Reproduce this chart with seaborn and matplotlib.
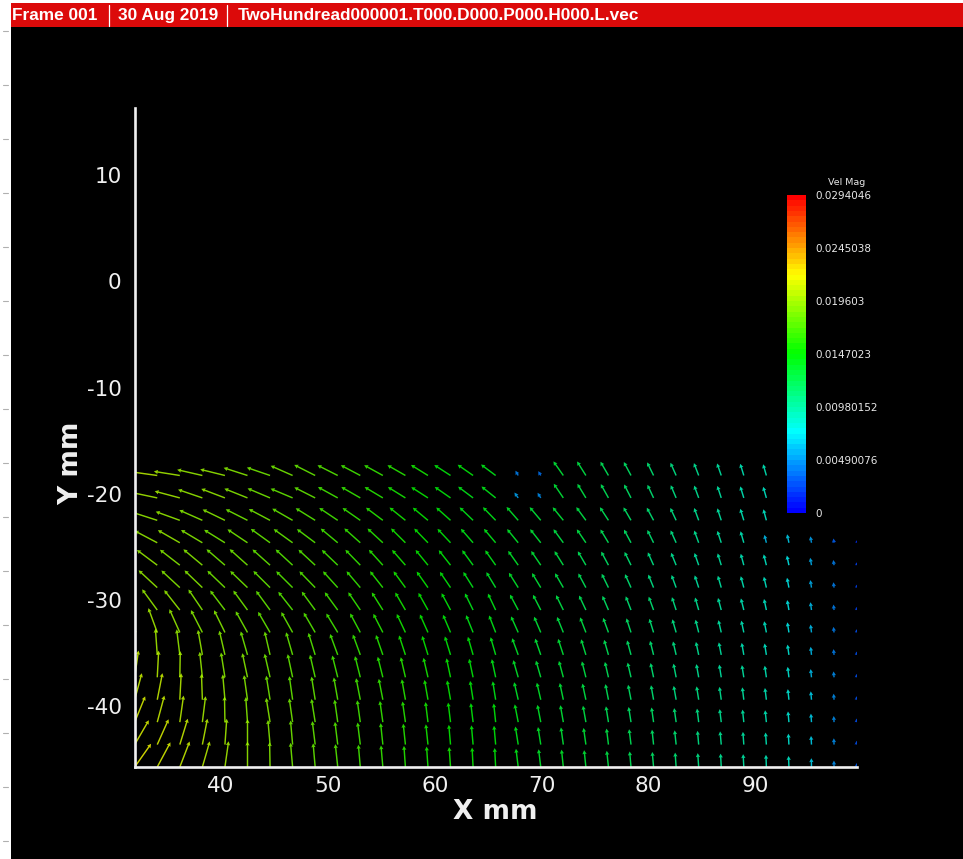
import numpy as np
import matplotlib
matplotlib.use("Agg")
import matplotlib.pyplot as plt
from matplotlib.colors import BoundaryNorm
from matplotlib.cm import ScalarMappable
from matplotlib.patches import Rectangle
from matplotlib.lines import Line2D
from matplotlib.ticker import MultipleLocator
import seaborn as sns

nan = np.nan

# PIV grid node positions (mm)
x_nodes = [31.93, 34.04, 36.15, 38.26, 40.37, 42.48, 44.59, 46.70, 48.81, 50.92,
           53.03, 55.14, 57.25, 59.36, 61.47, 63.58, 65.69, 67.80, 69.91, 72.02,
           74.13, 76.24, 78.35, 80.46, 82.57, 84.68, 86.79, 88.90, 91.01, 93.12,
           95.23, 97.34, 99.45]
y_nodes = [-18.27, -20.38, -22.49, -24.60, -26.71, -28.82, -30.93, -33.04,
           -35.15, -37.26, -39.37, -41.48, -43.59, -45.70]

# flow direction at each node, degrees counter-clockwise from +x (rows top to bottom)
flow_angle_deg = [
    [176,172,171,167,166,162,161,156,153, 153,152,151,150,148,147,145,143, 120,120,125,122,120,118,116,114, 111,109,107,106, nan,nan,nan,nan],
    [172,168,165,161,159,158,157,157,153, 151,150,149,148,147,145,143,141, 125,122,124,121,119,117,115,113, 110,108,107,106, nan,nan,nan,nan],
    [166,162,160,156,154,153,152,150,148, 146,145,143,141,140,138,136,134, 131,130,129,126,123,120,118,115, 110,108,107,105, nan,nan,nan,nan],
    [156,152,150,149,148,146,144,144,143, 140,138,137,135,134,133,131,130, 129,128,126,124,121,118,116,114, 110,108,106,104, 102,100,98,96],
    [148,143,142,140,139,138,138,137,137, 136,134,132,131,129,128,126,125, 125,124,122,120,118,116,114,112, 109,107,105,104, 102,100,98,96],
    [140,137,137,136,136,136,135,135,134, 132,130,128,126,125,124,122,121, 122,121,120,118,116,114,112,110, 108,106,105,103, 101,99,97,95],
    [128,126,128,124,127,126,126,128,126, 126,124,122,120,119,118,116,115, 118,117,116,115,113,111,110,108, 106,105,104,102, 100,98,96,95],
    [108,110,114,117,116,119,120,119,120, 121,118,117,115,114,113,112,111, 114,113,112,111,110,108,107,106, 104,103,102,101, 99,97,96,94],
    [90,94,97,100,103,106,103,106,107, 110,110,109,108,107,107,106,106, 110,109,108,107,106,105,104,103, 102,101,100,99, 98,96,95,94],
    [82,87,89,96,99,102,103,102,103, 104,104,104,103,103,102,102,102, 106,106,105,104,103,103,102,101, 100,99,99,98, 97,96,95,94],
    [75,79,87,92,95,98,99,98,99, 100,101,101,100,100,100,99,99, 103,103,102,102,101,101,100,100, 99,98,97,97, 96,95,94,93],
    [68,75,82,83,91,94,99,98,99, 98,98,98,98,97,97,97,96, 101,101,100,100,99,99,98,98, 97,97,96,96, 95,94,93,92],
    [60,66,73,79,86,90,95,95,97, 97,97,96,96,96,95,95,95, 99,99,98,98,97,97,96,96, 95,95,94,94, 93,93,92,91],
    [55,62,69,74,82,90,91,95,95, 96,95,95,94,94,94,93,93, 97,97,96,96,96,95,95,94, 94,93,93,92, 92,91,91,90],
]

# velocity magnitude at each node, in units of 1e-4 m/s
vel_mag_e4 = [
    [198,201,199,196,193,190,186,182,178, 172,167,162,157,152,147,143,139, 42,38,131,126,121,116,111,106, 101,97,93,89, nan,nan,nan,nan],
    [197,199,197,195,192,189,185,181,177, 171,166,161,156,151,146,142,138, 50,46,130,125,120,115,110,105, 100,96,92,88, nan,nan,nan,nan],
    [195,196,194,191,188,185,182,178,174, 169,164,160,155,150,146,142,139, 135,131,128,124,119,114,109,104, 100,96,92,87, nan,nan,nan,nan],
    [194,194,192,189,186,183,180,177,173, 168,163,159,154,150,145,141,138, 134,131,127,123,118,113,108,103, 99,95,91,62, 66,50,33,19],
    [194,193,191,188,185,182,179,176,173, 167,163,158,154,149,145,141,138, 133,130,126,122,117,112,107,102, 98,94,90,85, 75,57,40,22],
    [195,193,191,188,185,182,179,176,172, 167,162,158,153,149,144,140,137, 133,129,126,122,117,112,107,102, 98,94,90,85, 76,58,41,23],
    [197,195,192,189,186,183,180,176,173, 167,163,158,154,149,145,141,138, 133,130,126,122,117,112,108,103, 99,95,91,86, 77,60,42,24],
    [200,197,194,191,188,184,181,177,174, 168,164,159,155,150,146,142,139, 134,130,127,123,118,113,109,104, 100,96,92,87, 78,61,43,25],
    [203,200,196,193,189,186,182,179,175, 169,165,160,156,151,147,143,140, 135,131,128,124,119,114,110,105, 101,97,93,88, 79,62,44,26],
    [206,203,199,195,191,188,184,180,176, 171,166,161,157,152,148,144,141, 136,132,129,125,120,115,111,106, 102,98,94,89, 80,63,45,26],
    [209,206,202,197,193,189,185,181,178, 172,167,162,158,153,149,145,142, 137,133,130,126,121,116,112,107, 103,99,95,90, 81,64,46,27],
    [212,209,204,199,195,191,187,183,179, 173,168,163,159,154,150,146,143, 138,134,131,127,122,117,113,108, 104,100,96,91, 82,65,47,28],
    [214,211,206,201,197,193,188,184,180, 174,169,164,160,155,151,147,144, 139,135,132,128,123,118,114,109, 105,101,97,92, 83,66,48,29],
    [216,213,208,203,198,194,189,185,181, 175,170,165,161,156,152,148,145, 140,136,133,129,124,119,115,110, 106,102,98,93, 84,67,49,30],
]

legend_levels = [0, 0.00490076, 0.00980152, 0.0147023, 0.019603, 0.0245038, 0.0294046]
legend_labels = ["0", "0.00490076", "0.00980152", "0.0147023", "0.019603", "0.0245038", "0.0294046"]

header_items = ["Frame 001", "30 Aug 2019", "TwoHundread000001.T000.D000.P000.H000.L.vec"]

# ---------------------------------------------------------------- style
sns.set_theme(style="dark", rc={
    "figure.facecolor": "black",
    "axes.facecolor": "black",
    "savefig.facecolor": "black",
    "axes.edgecolor": "white",
    "text.color": "white",
    "xtick.color": "white",
    "ytick.color": "white",
    "axes.unicode_minus": False,
})
plt.rcParams["font.family"] = ["DejaVu Sans"]
plt.rcParams["axes.unicode_minus"] = False

W, H, DPI = 963, 859, 100
fig = plt.figure(figsize=(W / DPI, H / DPI), dpi=DPI)

# frame decoration: white workspace strip on the left and red header bar
fig.add_artist(Rectangle((0, 0), 11 / W, 1, transform=fig.transFigure,
                         facecolor="white", edgecolor="none", zorder=0))
fig.add_artist(Rectangle((0, 1 - 3 / H), 1, 3 / H, transform=fig.transFigure,
                         facecolor="white", edgecolor="none", zorder=0))
fig.add_artist(Rectangle((11 / W, 1 - 27 / H), 1 - 11 / W, 24 / H, transform=fig.transFigure,
                         facecolor="#dc0a0a", edgecolor="none", zorder=1))
for yy in range(31, H, 54):
    fig.add_artist(Line2D([3 / W, 8 / W], [1 - yy / H, 1 - yy / H], transform=fig.transFigure,
                          color="#b0b0b0", lw=0.8, zorder=2))

hdr_x = [12, 118, 238]
for xx, txt in zip(hdr_x, header_items):
    fig.text(xx / W, 1 - 15.5 / H, txt, ha="left", va="center", color="white",
             fontsize=12.4, fontweight="bold", family=["Liberation Sans", "DejaVu Sans"], zorder=3)
for xx in [109, 227]:
    fig.add_artist(Line2D([xx / W, xx / W], [1 - 5 / H, 1 - 26 / H], transform=fig.transFigure,
                          color="white", lw=0.9, zorder=3))

# ---------------------------------------------------------------- vector plot
ax = fig.add_axes([134.7 / W, 1 - 767 / H, (856.6 - 134.7) / W, (767 - 108.3) / H])
ax.set_facecolor("black")

cmap = sns.blend_palette(["#0000ff", "#00ffff", "#00ff00", "#ffff00", "#ff0000"], n_colors=256, as_cmap=True)
bounds = np.linspace(legend_levels[0], legend_levels[-1], 61)
norm = BoundaryNorm(bounds, cmap.N)

Xg, Yg = np.meshgrid(np.array(x_nodes), np.array(y_nodes))
ang = np.radians(np.array(flow_angle_deg, dtype=float))
mag = np.array(vel_mag_e4, dtype=float) * 1e-4
U = np.ma.masked_invalid(mag * np.cos(ang))
V = np.ma.masked_invalid(mag * np.sin(ang))
C = np.ma.masked_invalid(mag)

ax.quiver(Xg, Yg, U, V, C, cmap=cmap, norm=norm, angles="xy", scale_units="xy",
          scale=0.0081, pivot="tail", width=0.0020, headwidth=3.0, headlength=2.8,
          headaxislength=2.5, alpha=0.82, zorder=2)

ax.set_xlim(31.93, 99.45)
ax.set_ylim(-45.7, 16.28)
for side in ("top", "right"):
    ax.spines[side].set_visible(False)
for side in ("left", "bottom"):
    ax.spines[side].set_color("#f0f0f0")
    ax.spines[side].set_linewidth(1.9)
    ax.spines[side].set_zorder(5)

ax.xaxis.set_major_locator(MultipleLocator(10))
ax.xaxis.set_minor_locator(MultipleLocator(2))
ax.yaxis.set_major_locator(MultipleLocator(10))
ax.yaxis.set_minor_locator(MultipleLocator(2))
ax.tick_params(which="major", direction="in", length=10.8, width=1.5, colors="#f0f0f0",
               labelsize=15.5, labelcolor="#f0f0f0")
ax.tick_params(which="minor", direction="in", length=5, width=1.2, colors="#f0f0f0")
ax.tick_params(axis="y", which="major", pad=9.5)
ax.tick_params(axis="x", which="major", pad=6.5)
ax.grid(False)

ax.set_xlabel("X mm", fontsize=19, fontweight="bold", color="#f0f0f0")
ax.set_ylabel("Y mm", fontsize=19, fontweight="bold", color="#f0f0f0")
ax.xaxis.set_label_coords(0.499, -0.068)
ax.yaxis.set_label_coords(-0.088, 0.4615)
ax.xaxis.label.set_va("center")
ax.yaxis.label.set_va("center")

# ---------------------------------------------------------------- contour legend
cax = fig.add_axes([787 / W, 1 - 513 / H, 19 / W, 318 / H])
sm = ScalarMappable(norm=norm, cmap=cmap)
cb = fig.colorbar(sm, cax=cax, ticks=legend_levels)
cb.set_ticklabels(legend_labels)
cb.outline.set_visible(False)
cax.minorticks_off()
cax.tick_params(which="both", length=0, labelsize=7.5, labelcolor="#e8e8e8", pad=6.5)
cax.text(2.15, 1.025, "Vel Mag", transform=cax.transAxes, ha="left", va="bottom",
         fontsize=6.8, color="#e8e8e8")

fig.savefig("out.png", dpi=DPI, facecolor="black")
